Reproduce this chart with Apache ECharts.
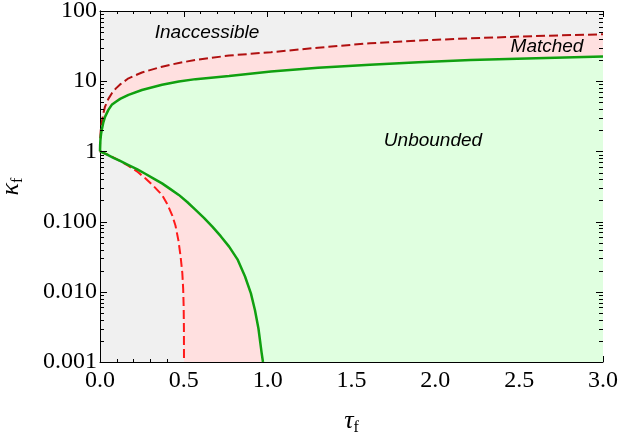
<!DOCTYPE html>
<html>
<head>
<meta charset="utf-8">
<script src="https://cdn.jsdelivr.net/npm/echarts@6/dist/echarts.min.js"></script>
<style>html,body{margin:0;padding:0;background:#fff;}#c{width:621px;height:439px;}</style>
</head>
<body>
<div id="c"></div>
<script>
// ---- data ----
const tauRedUpper = [0, 0.001, 0.003, 0.006, 0.01, 0.02, 0.03, 0.05, 0.07, 0.095, 0.12, 0.17, 0.25, 0.37, 0.47, 0.57, 0.77, 1.02, 1.3, 1.61, 1.9, 2.21, 2.6, 3.0];
const kRedUpper   = [1, 1.45, 1.8, 2.2, 2.55, 3.5, 4.35, 5.6, 6.7, 7.9, 9.0, 11.0, 13.3, 16.1, 18.2, 20.1, 23.2, 25.9, 30.0, 34.7, 38.0, 40.8, 44.0, 46.6];
const tauGreenUpper = [0, 0.001, 0.003, 0.006, 0.01, 0.02, 0.03, 0.05, 0.07, 0.095, 0.12, 0.17, 0.25, 0.37, 0.47, 0.57, 0.77, 1.02, 1.3, 1.61, 1.9, 2.21, 2.6, 3.0];
const kGreenUpper   = [1, 1.25, 1.5, 1.75, 2.0, 2.6, 3.1, 3.9, 4.6, 5.1, 5.6, 6.4, 7.5, 8.9, 9.9, 10.7, 11.9, 13.7, 15.5, 17.1, 18.6, 20.1, 21.3, 22.4];
const tauRedLower = [0, 0.04, 0.08, 0.12, 0.17, 0.22, 0.27, 0.32, 0.37, 0.40, 0.43, 0.45, 0.467, 0.48, 0.491, 0.496, 0.499, 0.5005, 0.501];
const kRedLower   = [1, 0.91, 0.82, 0.73, 0.62, 0.52, 0.415, 0.32, 0.24, 0.18, 0.124, 0.088, 0.055, 0.033, 0.0184, 0.011, 0.0062, 0.003, 0.001];
const tauGreenLower = [0, 0.04, 0.08, 0.12, 0.17, 0.22, 0.27, 0.32, 0.37, 0.42, 0.47, 0.52, 0.57, 0.62, 0.67, 0.72, 0.77, 0.82, 0.865, 0.9, 0.924, 0.945, 0.964, 0.972];
const kGreenLower   = [1, 0.905, 0.81, 0.73, 0.64, 0.56, 0.48, 0.41, 0.35, 0.29, 0.24, 0.19, 0.147, 0.113, 0.085, 0.062, 0.044, 0.029, 0.0165, 0.0095, 0.0055, 0.003, 0.00135, 0.001];
const yTickLabels = {'-3':'0.001','-2':'0.010','-1':'0.100','0':'1','1':'10','2':'100'};
const yMinorTicks = [];
[0.001,0.01,0.1,1,10].forEach(function(d){ for(let m=2;m<=9;m++) yMinorTicks.push(+(d*m).toPrecision(3)); });
const yMajorTicks = [0.001,0.01,0.1,1,10,100];
const regionLabels = ['Inaccessible','Matched','Unbounded'];
const X_MIN = 0, X_MAX = 3, Y_MIN = 0.001, Y_MAX = 100;

function zip(a,b){ return a.map(function(v,i){ return [v,b[i]]; }); }

function polySeries(uT,uK,lT,lK,fill){
  return {
    type:'custom', silent:true, clip:true, data:[[1,1]],
    renderItem:function(params, api){
      const pts=[];
      for(let i=0;i<uT.length;i++) pts.push(api.coord([uT[i],uK[i]]));
      pts.push(api.coord([X_MAX, Y_MIN]));
      for(let i=lT.length-1;i>=0;i--) pts.push(api.coord([lT[i],lK[i]]));
      return {type:'polygon', shape:{points:pts}, style:{fill:fill}};
    }
  };
}
function tickSeries(vals, len){
  return {type:'custom', silent:true, clip:false, z:20,
    data:vals.map(function(v){return [1,v];}),
    renderItem:function(params, api){
      const v = api.value(1);
      const cs = params.coordSys;
      const y = Math.round(api.coord([1, v])[1]) + 0.5;
      const xl = cs.x, xr = cs.x + cs.width;
      return {type:'group', children:[
        {type:'line', shape:{x1:xl, y1:y, x2:xl+len, y2:y}, style:{stroke:'#000', lineWidth:1}},
        {type:'line', shape:{x1:xr-len, y1:y, x2:xr, y2:y}, style:{stroke:'#000', lineWidth:1}}
      ]};
    }};
}

const serif = 'Liberation Serif';
const nameRich = {
  a:{fontFamily:serif, fontSize:26, fontStyle:'italic', color:'#000', lineHeight:30, verticalAlign:'middle'},
  b:{fontFamily:serif, fontSize:16, color:'#000', lineHeight:16, verticalAlign:'bottom'}
};
const chart = echarts.init(document.getElementById('c'), null, {renderer:'canvas'});
const option = {
  animation:false,
  grid:{left:100, right:18, top:11, bottom:77, show:true, backgroundColor:'#f0f0f0', borderWidth:0,
        containLabel:false, outerBoundsMode:'none'},
  xAxis:[{
    type:'value', min:X_MIN, max:X_MAX, interval:0.5,
    axisLine:{show:true, lineStyle:{color:'#000', width:1}},
    axisTick:{show:true, inside:true, length:6, lineStyle:{color:'#000'}},
    minorTick:{show:true, splitNumber:5, length:3, lineStyle:{color:'#000'}},
    splitLine:{show:false},
    axisLabel:{fontFamily:serif, fontSize:24, color:'#000', margin:7, formatter:function(v){return v.toFixed(1);}},
    name:'{a|τ}{b|f}', nameLocation:'middle', nameGap:44,
    nameTextStyle:{rich:nameRich}
  },{
    type:'value', position:'top', min:X_MIN, max:X_MAX, interval:0.5,
    axisLine:{show:true, lineStyle:{color:'#000', width:1}},
    axisTick:{show:true, inside:true, length:6, lineStyle:{color:'#000'}},
    minorTick:{show:true, splitNumber:5, length:3, lineStyle:{color:'#000'}},
    splitLine:{show:false}, axisLabel:{show:false}
  }],
  yAxis:[{
    type:'log', logBase:10, min:Y_MIN, max:Y_MAX,
    axisLine:{show:true, lineStyle:{color:'#000', width:1}},
    axisTick:{show:false},
    splitLine:{show:false},
    axisLabel:{fontFamily:serif, fontSize:24, color:'#000', margin:3,
      formatter:function(v){ return yTickLabels[String(Math.round(Math.log10(v)))] || ''; }},
    name:'{a|κ}{b|f}', nameLocation:'middle', nameGap:74, nameRotate:90,
    nameTextStyle:{rich:nameRich}
  },{
    type:'log', logBase:10, min:Y_MIN, max:Y_MAX, position:'right',
    axisLine:{show:true, lineStyle:{color:'#000', width:1}},
    axisTick:{show:false},
    splitLine:{show:false}, axisLabel:{show:false}
  }],
  series:[
    polySeries(tauRedUpper,kRedUpper,tauRedLower,kRedLower,'#ffe0e0'),
    polySeries(tauGreenUpper,kGreenUpper,tauGreenLower,kGreenLower,'#e0ffe0'),
    {type:'line', data:zip(tauRedUpper,kRedUpper), symbol:'none', silent:true,
      lineStyle:{color:'#b01010', width:2, type:[9,4]}},
    {type:'line', data:zip(tauRedLower,kRedLower), symbol:'none', silent:true,
      lineStyle:{color:'#ff1a1a', width:2, type:[9,4]}},
    {type:'line', data:zip(tauGreenUpper,kGreenUpper), symbol:'none', silent:true,
      lineStyle:{color:'#10a010', width:2.5}},
    {type:'line', data:zip(tauGreenLower,kGreenLower), symbol:'none', silent:true,
      lineStyle:{color:'#10a010', width:2.5}},
    tickSeries(yMinorTicks, 4),
    tickSeries(yMajorTicks, 7)
  ],
  graphic:[
    {type:'text', x:207, y:33, z:10, style:{text:regionLabels[0], align:'center', verticalAlign:'middle', font:'italic 19px "Liberation Sans"', fill:'#000'}},
    {type:'text', x:547, y:47, z:10, style:{text:regionLabels[1], align:'center', verticalAlign:'middle', font:'italic 19px "Liberation Sans"', fill:'#000'}},
    {type:'text', x:433, y:141, z:10, style:{text:regionLabels[2], align:'center', verticalAlign:'middle', font:'italic 19px "Liberation Sans"', fill:'#000'}}
  ]
};
chart.setOption(option);
</script>
</body>
</html>
